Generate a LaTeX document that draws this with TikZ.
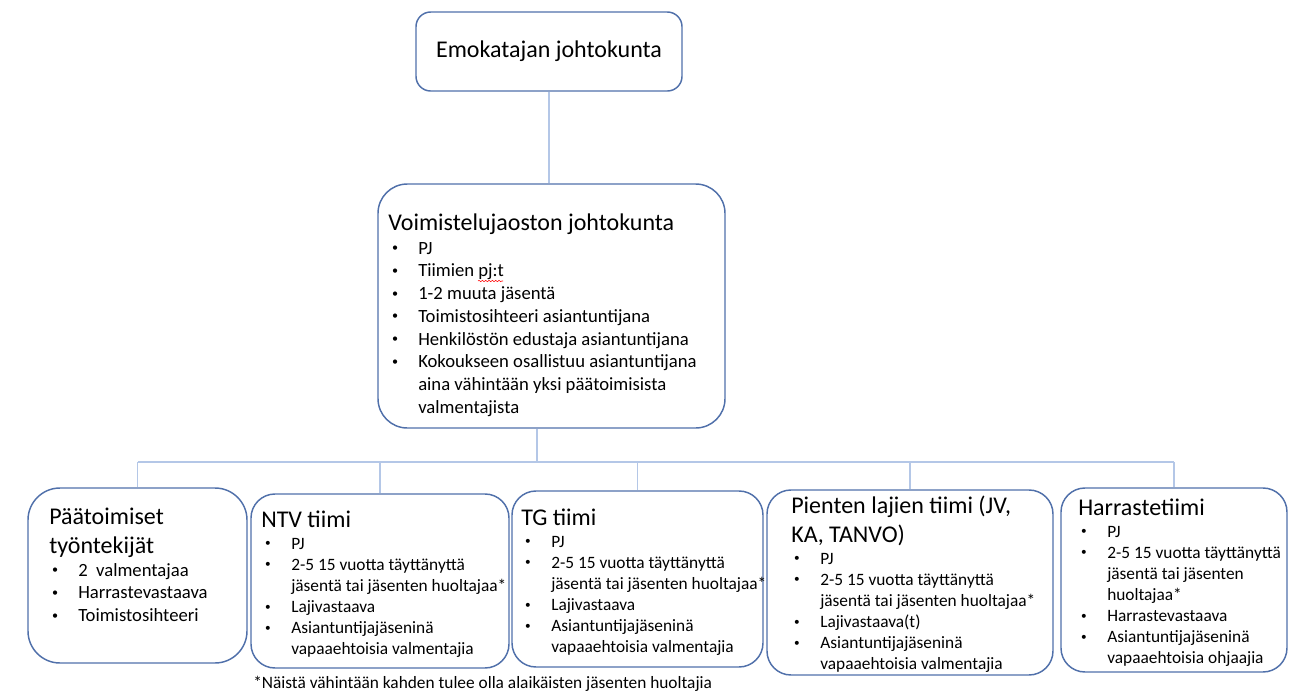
\documentclass[tikz,border=0pt]{standalone}
\usepackage{fontspec}
\setmainfont{Carlito}
\usetikzlibrary{decorations.pathmorphing}

\definecolor{boxblue}{RGB}{80,112,170}
\definecolor{linkblue}{RGB}{180,199,231}

\newlength{\bulw}
\setlength{\bulw}{21pt}
\newcommand{\bitem}{\makebox[\bulw][l]{\hspace{0.1em}\raisebox{0.13em}{\scalebox{0.65}{\textbullet}}}}
\newcommand{\bcont}{\hspace*{\bulw}}
\newcommand{\linesof}[1]{\begin{tabular}[t]{@{}l@{}}#1\end{tabular}}

\tikzset{
  orgbox/.style={draw=boxblue, line width=1.1pt, rounded corners=#1, inner sep=0pt},
  orgbox/.default=18pt,
  conn/.style={draw=linkblue, line width=1.2pt},
  ttl/.style={anchor=base west, inner sep=0pt, font=\fontsize{18pt}{21.96pt}\selectfont},
  lst/.style={anchor=base west, inner sep=0pt, font=\fontsize{14pt}{17.08pt}\selectfont},
  sublst/.style={anchor=base west, inner sep=0pt, font=\fontsize{13pt}{15.86pt}\selectfont}
}

\begin{document}
\begin{tikzpicture}[x=0.75pt,y=-0.75pt]
\useasboundingbox (0,0) rectangle (1290,690);

% boxes
\node[orgbox=11pt, minimum width=199.5pt, minimum height=59.25pt,
      font=\fontsize{18pt}{21.96pt}\selectfont] (emo) at (549,51.5) {Emokatajan johtokunta};
\node[orgbox=22pt, minimum width=260.25pt, minimum height=183pt] (vjj) at (551.5,306) {};
\node[orgbox=24pt, minimum width=164.25pt, minimum height=131.25pt] (ptt) at (137.5,575.5) {};
\node[orgbox, minimum width=193.5pt, minimum height=130.5pt] (ntv) at (380,581) {};
\node[orgbox, minimum width=188.25pt, minimum height=132pt] (tg) at (637.5,579) {};
\node[orgbox, minimum width=214.5pt, minimum height=138.75pt] (pienet) at (910,582.5) {};
\node[orgbox, minimum width=169.5pt, minimum height=138pt] (harr) at (1174,580) {};

% connectors
\coordinate (hub) at (537,462);
\draw[conn] (emo.south) -- (emo.south |- vjj.north);
\draw[conn] (vjj.south -| hub) -- (hub);
\draw[conn] (ptt.north |- hub) -- (harr.north |- hub);
\foreach \b in {ptt,ntv,tg,pienet,harr}
  \draw[conn] (\b.north |- hub) -- (\b.north);

% texts
\node[ttl] (vjj-ttl) at (388,230) {Voimistelujaoston johtokunta};
\node[lst] (vjj-lst) at (390,254) {\linesof{\bitem PJ\\ \bitem Tiimien pj:t\\ \bitem 1-2 muuta jäsentä\\
  \bitem Toimistosihteeri asiantuntijana\\ \bitem Henkilöstön edustaja asiantuntijana\\
  \bitem Kokoukseen osallistuu asiantuntijana\\ \bcont aina vähintään yksi päätoimisista\\
  \bcont valmentajista}};
\draw[red, decorate, decoration={snake, amplitude=0.5pt, segment length=2.5pt}] (478,281) -- (503,281);

\node[ttl] (ptt-ttl) at (49,524) {\linesof{Päätoimiset\\työntekijät}};
\node[lst] (ptt-lst) at (50,576) {\linesof{\bitem 2\ \ valmentajaa\\ \bitem Harrastevastaava\\ \bitem Toimistosihteeri}};

\node[ttl] (ntv-ttl) at (261,527) {NTV tiimi};
\node[sublst] (ntv-lst) at (263,549) {\linesof{\bitem PJ\\ \bitem 2-5 15 vuotta täyttänyttä\\
  \bcont jäsentä tai jäsenten huoltajaa*\\ \bitem Lajivastaava\\ \bitem Asiantuntijajäseninä\\
  \bcont vapaaehtoisia valmentajia}};

\node[ttl] (tg-ttl) at (521,525) {TG tiimi};
\node[sublst] (tg-lst) at (523,547) {\linesof{\bitem PJ\\ \bitem 2-5 15 vuotta täyttänyttä\\
  \bcont jäsentä tai jäsenten huoltajaa*\\ \bitem Lajivastaava\\ \bitem Asiantuntijajäseninä\\
  \bcont vapaaehtoisia valmentajia}};

\node[ttl] (pienet-ttl) at (791,513) {\linesof{Pienten lajien tiimi (JV,\\KA, TANVO)}};
\node[sublst] (pienet-lst) at (792,564) {\linesof{\bitem PJ\\ \bitem 2-5 15 vuotta täyttänyttä\\
  \bcont jäsentä tai jäsenten huoltajaa*\\ \bitem Lajivastaava(t)\\ \bitem Asiantuntijajäseninä\\
  \bcont vapaaehtoisia valmentajia}};

\node[ttl] (harr-ttl) at (1078,515) {Harrastetiimi};
\node[sublst] (harr-lst) at (1079,537) {\linesof{\bitem PJ\\ \bitem 2-5 15 vuotta täyttänyttä\\
  \bcont jäsentä tai jäsenten\\ \bcont huoltajaa*\\ \bitem Harrastevastaava\\
  \bitem Asiantuntijajäseninä\\ \bcont vapaaehtoisia ohjaajia}};

\node[sublst] (note) at (253,688) {*Näistä vähintään kahden tulee olla alaikäisten jäsenten huoltajia};

\end{tikzpicture}
\end{document}
